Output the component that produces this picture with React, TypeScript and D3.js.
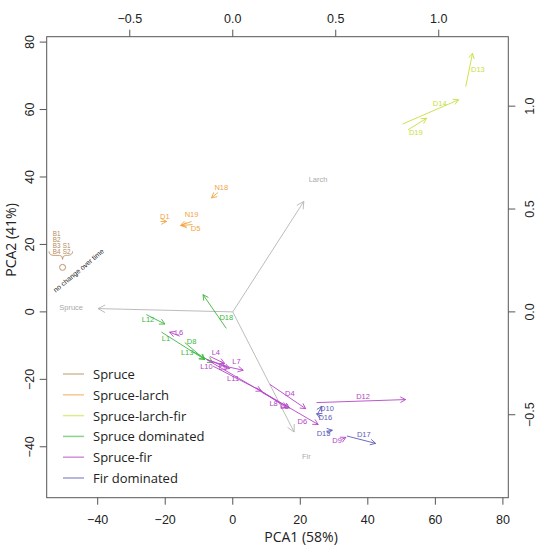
import * as d3 from 'd3';

type Move = { id: string; from: [number, number]; to: [number, number]; at: [number, number] };

// PCA scores (site, first survey -> second survey), label position
const spruceLarch: Move[] = [
	{ id: 'D1', from: [-21.4, 26.8], to: [-19.6, 26.8], at: [-20.1, 28.3] },
	{ id: 'N18', from: [-4.4, 35.4], to: [-6.3, 33.8], at: [-3.4, 36.9] },
	{ id: 'N19', from: [-12.2, 26.8], to: [-15.5, 25.6], at: [-12.2, 29.0] },
	{ id: 'D5', from: [-11.9, 25.9], to: [-15.2, 25.6], at: [-11.0, 24.7] },
];
const spruceLarchFir: Move[] = [
	{ id: 'D13', from: [69.0, 66.8], to: [71.0, 76.7], at: [72.6, 71.8] },
	{ id: 'D14', from: [50.3, 55.7], to: [66.9, 62.9], at: [61.3, 61.7] },
	{ id: 'D19', from: [51.9, 54.0], to: [57.4, 57.4], at: [54.2, 53.3] },
];
const spruceDominated: Move[] = [
	{ id: 'L12', from: [-25.6, -0.8], to: [-20.1, -3.6], at: [-25.1, -2.3] },
	{ id: 'L1', from: [-21.1, -6.0], to: [-8.3, -14.1], at: [-19.8, -8.0] },
	{ id: 'D8', from: [-14.2, -9.1], to: [-8.3, -14.1], at: [-12.2, -8.7] },
	{ id: 'L13', from: [-11.8, -11.8], to: [-5.9, -15.0], at: [-13.5, -12.1] },
	{ id: 'D18', from: [-1.9, -4.9], to: [-8.8, 5.1], at: [-1.9, -1.8] },
];
const spruceFir: Move[] = [
	{ id: 'L6', from: [-15.7, -7.2], to: [-18.7, -6.0], at: [-15.9, -6.2] },
	{ id: 'L4', from: [-6.8, -13.2], to: [-2.4, -15.3], at: [-5.0, -12.1] },
	{ id: 'L10', from: [-7.7, -14.1], to: [-2.4, -15.9], at: [-7.8, -16.1] },
	{ id: 'L9', from: [-6.2, -14.7], to: [-0.9, -16.8], at: [-2.9, -16.6] },
	{ id: 'L7', from: [-2.4, -16.1], to: [3.1, -17.3], at: [1.1, -14.8] },
	{ id: 'L11', from: [-5.8, -16.1], to: [8.5, -23.5], at: [0.1, -19.8] },
	{ id: 'D4', from: [11.0, -21.5], to: [21.6, -28.7], at: [16.9, -24.2] },
	{ id: 'L8', from: [7.0, -22.5], to: [15.9, -28.4], at: [12.1, -27.2] },
	{ id: 'L5', from: [8.5, -23.8], to: [16.8, -28.5], at: [15.3, -28.0] },
	{ id: 'D6', from: [-7.8, -14.1], to: [25.3, -33.4], at: [20.6, -32.4] },
	{ id: 'D12', from: [24.8, -26.9], to: [51.2, -26.0], at: [38.6, -25.2] },
	{ id: 'D9', from: [32.3, -37.8], to: [33.5, -37.2], at: [30.9, -38.1] },
];
const firDominated: Move[] = [
	{ id: 'D10', from: [25.2, -30.1], to: [26.4, -28.0], at: [27.9, -28.7] },
	{ id: 'D16', from: [26.3, -30.9], to: [24.8, -30.2], at: [27.4, -31.2] },
	{ id: 'D15', from: [27.7, -35.4], to: [29.5, -35.1], at: [26.9, -36.0] },
	{ id: 'D17', from: [33.8, -36.8], to: [42.3, -39.0], at: [38.8, -36.3] },
];

// unchanged spruce sites (all at one point)
const spruceSites = ['B1', 'B2', 'B3', 'B4', 'S1', 'S2'];
const spruceAt: [number, number] = [-50.4, 13.2];

// species loadings (secondary axes)
const species = ['Spruce', 'Larch', 'Fir'];
const loadings: [number, number][] = [
	[-0.654, 0.016],
	[0.345, 0.537],
	[0.298, -0.584],
];

const groups = ['Spruce', 'Spruce-larch', 'Spruce-larch-fir', 'Spruce dominated', 'Spruce-fir', 'Fir dominated'];
const groupColors = ['#b48a5a', '#f2a443', '#c8de3c', '#3db53d', '#b445c6', '#5c5cb8'];
const moves = [[], spruceLarch, spruceLarchFir, spruceDominated, spruceFir, firDominated] as Move[][];

const xTicks = [-40, -20, 0, 20, 40, 60, 80];
const yTicks = [-40, -20, 0, 20, 40, 60, 80];
const topTicks = [-0.5, 0, 0.5, 1.0];
const rightTicks = [-0.5, 0, 0.5, 1.0];

const W = 539;
const H = 545;
const box = { left: 46.7, right: 508.3, top: 36.7, bottom: 497.7 };
const lim: [number, number] = [-55.1, 81.6];
const k2 = 61.0;

const x = d3.scaleLinear().domain(lim).range([box.left, box.right]);
const y = d3.scaleLinear().domain(lim).range([box.bottom, box.top]);
const x2 = d3.scaleLinear().domain([lim[0] / k2, lim[1] / k2]).range([box.left, box.right]);
const y2 = d3.scaleLinear().domain([lim[0] / k2, lim[1] / k2]).range([box.bottom, box.top]);

const font = '"Liberation Sans", Arial, sans-serif';
const legendFont = '"Open Sans", sans-serif';

function arrow(x0: number, y0: number, x1: number, y1: number, len = 6) {
	const a = Math.atan2(y1 - y0, x1 - x0);
	const phi = (28 * Math.PI) / 180;
	const p = d3.path();
	p.moveTo(x0, y0);
	p.lineTo(x1, y1);
	p.moveTo(x1 - len * Math.cos(a - phi), y1 - len * Math.sin(a - phi));
	p.lineTo(x1, y1);
	p.lineTo(x1 - len * Math.cos(a + phi), y1 - len * Math.sin(a + phi));
	return p.toString();
}

const fmt = (v: number) => (v < 0 ? '\u2212' : '') + Math.abs(v).toFixed(1);
const fmtInt = (v: number) => (v < 0 ? '\u2212' : '') + Math.abs(v);

export default function App() {
	const [cx, cy] = [x(spruceAt[0]), y(spruceAt[1])];
	const braceY = cy - 12;
	const bl = cx - 13.5;
	const br = cx + 10;
	const brace = `M${bl},${braceY - 4} Q${bl},${braceY} ${bl + 5},${braceY} L${cx - 3},${braceY} Q${cx},${braceY} ${cx},${braceY + 4} Q${cx},${braceY} ${cx + 3},${braceY} L${br - 5},${braceY} Q${br},${braceY} ${br},${braceY - 4}`;

	return (
		<svg width={W} height={H} style={{ position: 'absolute', left: 0, top: 0, background: '#fff' }}>
			{/* species vectors */}
			{loadings.map((l, i) => (
				<g key={species[i]}>
					<path d={arrow(x2(0), y2(0), x2(l[0]), y2(l[1]), 8)} fill="none" stroke="#b4b4b4" strokeWidth={0.9} />
					<text x={x2(l[0] * 1.2)} y={y2(l[1] * 1.2)} fontSize={7.5} fill="#aaa" fontFamily={font} textAnchor="middle" dominantBaseline="central">
						{species[i]}
					</text>
				</g>
			))}

			{/* site trajectories */}
			{moves.map((list, gi) =>
				list.map((m) => (
					<g key={m.id}>
						<path d={arrow(x(m.from[0]), y(m.from[1]), x(m.to[0]), y(m.to[1]))} fill="none" stroke={groupColors[gi]} strokeWidth={0.9} />
						<text x={x(m.at[0])} y={y(m.at[1])} fontSize={7.5} fill={groupColors[gi]} fontFamily={font} textAnchor="middle" dominantBaseline="central">
							{m.id}
						</text>
					</g>
				))
			)}

			{/* spruce sites with no change */}
			{spruceSites.map((s, i) => (
				<text
					key={s}
					x={cx + (i < 4 ? -6 : 4)}
					y={cy - 34 + (i < 4 ? i : i - 2) * 6}
					fontSize={6.3}
					fill={groupColors[0]}
					fontFamily={font}
					textAnchor="middle"
					dominantBaseline="central"
				>
					{s}
				</text>
			))}
			<path d={brace} fill="none" stroke={groupColors[0]} strokeWidth={0.8} />
			<circle cx={cx} cy={cy} r={3} fill="none" stroke={groupColors[0]} strokeWidth={0.9} />
			<text x={cx + 16} y={cy + 3} fontSize={7} fill="#222" fontFamily={font} textAnchor="middle" dominantBaseline="central" transform={`rotate(-40, ${cx + 16}, ${cy + 3})`}>
				no change over time
			</text>

			{/* box */}
			<rect x={box.left} y={box.top} width={box.right - box.left} height={box.bottom - box.top} fill="none" stroke="#555" strokeWidth={1} />

			{/* bottom axis */}
			{xTicks.map((t) => (
				<g key={'b' + t}>
					<line x1={x(t)} x2={x(t)} y1={box.bottom} y2={box.bottom + 7} stroke="#555" />
					<text x={x(t)} y={box.bottom + 22} fontSize={12.5} fontFamily={font} fill="#222" textAnchor="middle" dominantBaseline="central">
						{fmtInt(t)}
					</text>
				</g>
			))}
			{/* left axis */}
			{yTicks.map((t) => (
				<g key={'l' + t}>
					<line x1={box.left - 7} x2={box.left} y1={y(t)} y2={y(t)} stroke="#555" />
					<text x={30.5} y={y(t)} fontSize={12.5} fontFamily={font} fill="#222" textAnchor="middle" dominantBaseline="central" transform={`rotate(-90, 30.5, ${y(t)})`}>
						{fmtInt(t)}
					</text>
				</g>
			))}
			{/* top axis */}
			{topTicks.map((t) => (
				<g key={'t' + t}>
					<line x1={x2(t)} x2={x2(t)} y1={box.top - 7} y2={box.top} stroke="#555" />
					<text x={x2(t)} y={19} fontSize={12.5} fontFamily={font} fill="#222" textAnchor="middle" dominantBaseline="central">
						{fmt(t)}
					</text>
				</g>
			))}
			{/* right axis */}
			{rightTicks.map((t) => (
				<g key={'r' + t}>
					<line x1={box.right} x2={box.right + 7} y1={y2(t)} y2={y2(t)} stroke="#555" />
					<text x={530} y={y2(t)} fontSize={12.5} fontFamily={font} fill="#222" textAnchor="middle" dominantBaseline="central" transform={`rotate(-90, 530, ${y2(t)})`}>
						{fmt(t)}
					</text>
				</g>
			))}

			<text x={301} y={536} fontSize={14} fontFamily={legendFont} fill="#222" textAnchor="middle" dominantBaseline="central">
				PCA1 (58%)
			</text>
			<text x={10} y={240} fontSize={14} fontFamily={legendFont} fill="#222" textAnchor="middle" dominantBaseline="central" transform="rotate(-90, 10, 240)">
				PCA2 (41%)
			</text>

			{/* legend */}
			{groups.map((g, i) => (
				<g key={g}>
					<line x1={63} x2={84} y1={374 + i * 20.8} y2={374 + i * 20.8} stroke={groupColors[i]} strokeOpacity={0.6} strokeWidth={1.5} />
					<text x={93} y={374 + i * 20.8} fontSize={13} fontFamily={legendFont} fill="#222" dominantBaseline="central">
						{g}
					</text>
				</g>
			))}
		</svg>
	);
}
